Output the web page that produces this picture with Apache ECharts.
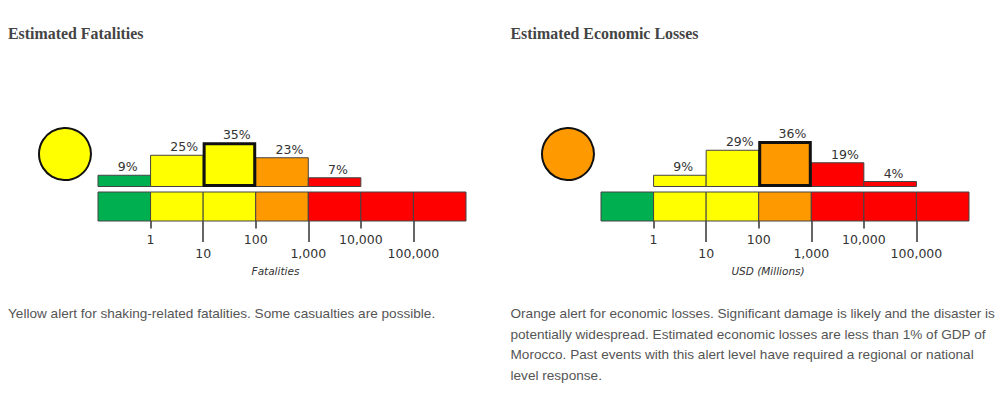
<!DOCTYPE html>
<html>
<head>
<meta charset="utf-8">
<title>Estimated Fatalities and Economic Losses</title>
<script src="https://cdn.jsdelivr.net/npm/echarts@6/dist/echarts.min.js"></script>
<style>
html, body { margin: 0; padding: 0; background: #fff; }
#chart { width: 1000px; height: 400px; }
</style>
</head>
<body>
<div id="chart"></div>
<script>
var GREEN = "#00B050", YELLOW = "#FFFF00", ORANGE = "#FF9900", RED = "#FF0000";

// bin edges of the strip, shared by both panels
var binEdges = [0.1, 1, 10, 100, 1000, 10000, 100000, 1000000];
var binColors = [GREEN, YELLOW, YELLOW, ORANGE, RED, RED, RED];
var shortTicks = [1, 100, 10000];
var longTicks = [10, 1000, 100000];

// fatalities
var fatalityStart = 0;
var fatalityPct = [9, 25, 35, 23, 7];
var fatalityAlertBin = 2;
var fatalityAlertColor = YELLOW;
var fatalityTitle = "Estimated Fatalities";
var fatalityAxis = "Fatalities";
var fatalityText = "Yellow alert for shaking-related fatalities. Some casualties are possible.";

// economic losses
var lossStart = 1;
var lossPct = [9, 29, 36, 19, 4];
var lossAlertBin = 3;
var lossAlertColor = ORANGE;
var lossTitle = "Estimated Economic Losses";
var lossAxis = "USD (Millions)";
var lossText = "Orange alert for economic losses. Significant damage is likely and the disaster is\n" +
    "potentially widespread. Estimated economic losses are less than 1% of GDP of\n" +
    "Morocco. Past events with this alert level have required a regional or national\n" +
    "level response.";

var FONT = "DejaVu Sans";
var TEXT = "#333";

function fmt(v) {
    return String(v).replace(/\B(?=(\d{3})+$)/g, ",");
}

// one rectangle per bin, optional pct label
function renderBin(params, api) {
    var lo = api.coord([api.value(0), 0]);
    var hi = api.coord([api.value(1), api.value(2)]);
    var thick = api.value(3) === 1;
    var inset = thick ? 1 : 0;
    var children = [{
        type: "rect",
        shape: {
            x: lo[0] + inset,
            y: hi[1] + inset,
            width: hi[0] - lo[0] - inset * 2,
            height: lo[1] - hi[1] - inset * 2
        },
        style: {
            fill: api.value(4),
            stroke: thick ? "#111" : "#444",
            lineWidth: thick ? 3 : 1
        }
    }];
    if (api.value(5) === 1) {
        children.push({
            type: "text",
            style: {
                x: (lo[0] + hi[0]) / 2 - 6.5,
                y: hi[1] - 2,
                text: api.value(2) + "%",
                fill: TEXT,
                font: "12.5px '" + FONT + "'",
                textAlign: "left",
                textVerticalAlign: "bottom"
            }
        });
    }
    return { type: "group", children: children };
}

function binSeries(name, data, xIdx, yIdx, z) {
    return {
        name: name,
        type: "custom",
        xAxisIndex: xIdx,
        yAxisIndex: yIdx,
        z: z,
        clip: false,
        silent: true,
        renderItem: renderBin,
        data: data
    };
}

function buildPanel(option, left, start, pct, alertBin, alertColor, axisName, namePad) {
    var g = option.grid.length;
    var xBase = option.xAxis.length;
    var yBase = option.yAxis.length;

    option.grid.push(
        { left: left, width: 368, top: 136.5, height: 50 },
        { left: left, width: 368, top: 192, height: 29 },
        { left: left - 60, width: 54, top: 127, height: 54 }
    );
    var logAxis = { type: "log", logBase: 10, min: binEdges[0], max: binEdges[binEdges.length - 1] };
    option.xAxis.push(
        echarts.util.extend({ gridIndex: g, show: false }, logAxis),
        echarts.util.extend({
            gridIndex: g + 1,
            position: "bottom",
            name: axisName,
            nameLocation: "middle",
            nameGap: 44,
            nameTextStyle: {
                fontFamily: FONT, fontSize: 10.5, fontStyle: "italic", color: TEXT,
                padding: [0, namePad, 0, 0]
            },
            axisLine: { show: false },
            splitLine: { show: false },
            minorTick: { show: false },
            axisTick: { show: true, length: 7.5, customValues: shortTicks, lineStyle: { color: "#333", width: 1.5 } },
            axisLabel: {
                show: true, margin: 12, customValues: shortTicks, formatter: fmt,
                fontFamily: FONT, fontSize: 12.5, color: TEXT, hideOverlap: false
            }
        }, logAxis),
        echarts.util.extend({
            gridIndex: g + 1,
            position: "bottom",
            axisLine: { show: false },
            splitLine: { show: false },
            minorTick: { show: false },
            axisTick: { show: true, length: 21, customValues: longTicks, lineStyle: { color: "#333", width: 1.5 } },
            axisLabel: {
                show: true, margin: 25.5, customValues: longTicks, formatter: fmt,
                fontFamily: FONT, fontSize: 12.5, color: TEXT, hideOverlap: false
            }
        }, logAxis),
        { gridIndex: g + 2, type: "value", min: 0, max: 1, show: false }
    );
    option.yAxis.push(
        { gridIndex: g, type: "value", min: 0, max: 40, show: false },
        { gridIndex: g + 1, type: "value", min: 0, max: 1, show: false },
        { gridIndex: g + 2, type: "value", min: 0, max: 1, show: false }
    );

    // histogram, the alert bin goes in its own series so its border stays on top
    var normal = [], alert = [];
    pct.forEach(function (v, i) {
        var b = start + i;
        var row = [binEdges[b], binEdges[b + 1], v, b === alertBin ? 1 : 0, binColors[b], 1];
        (b === alertBin ? alert : normal).push(row);
    });
    var strip = binColors.map(function (c, i) {
        return [binEdges[i], binEdges[i + 1], 1, 0, c, 0];
    });

    option.series.push(
        binSeries("hist", normal, xBase, yBase, 2),
        binSeries("alert", alert, xBase, yBase, 3),
        binSeries("strip", strip, xBase + 1, yBase + 1, 2),
        {
            name: "alert level",
            type: "scatter",
            xAxisIndex: xBase + 3,
            yAxisIndex: yBase + 2,
            symbol: "circle",
            symbolSize: 52,
            silent: true,
            clip: false,
            itemStyle: { color: alertColor, opacity: 1, borderColor: "#111", borderWidth: 2 },
            data: [[0.5, 0.5]]
        }
    );
}

function heading(text, left) {
    return {
        text: text, left: left, top: 24, padding: 0,
        textStyle: { fontFamily: "Liberation Serif", fontWeight: "bold", fontSize: 15.9, color: "#444", lineHeight: 18 }
    };
}

function para(text, left) {
    return {
        text: text, left: left, top: 303, padding: 0,
        textStyle: { fontFamily: "Liberation Sans", fontWeight: "normal", fontSize: 13.6, color: "#555", lineHeight: 20.7 }
    };
}

var option = {
    animation: false,
    backgroundColor: "#fff",
    title: [
        heading(fatalityTitle, 8), heading(lossTitle, 510.5),
        para(fatalityText, 8), para(lossText, 510.5)
    ],
    grid: [], xAxis: [], yAxis: [], series: []
};

buildPanel(option, 98, fatalityStart, fatalityPct, fatalityAlertBin, fatalityAlertColor, fatalityAxis, 13);
buildPanel(option, 601, lossStart, lossPct, lossAlertBin, lossAlertColor, lossAxis, 34);

var mychart = echarts.init(document.getElementById("chart"), null, { renderer: "svg" });
mychart.setOption(option);
</script>
</body>
</html>
